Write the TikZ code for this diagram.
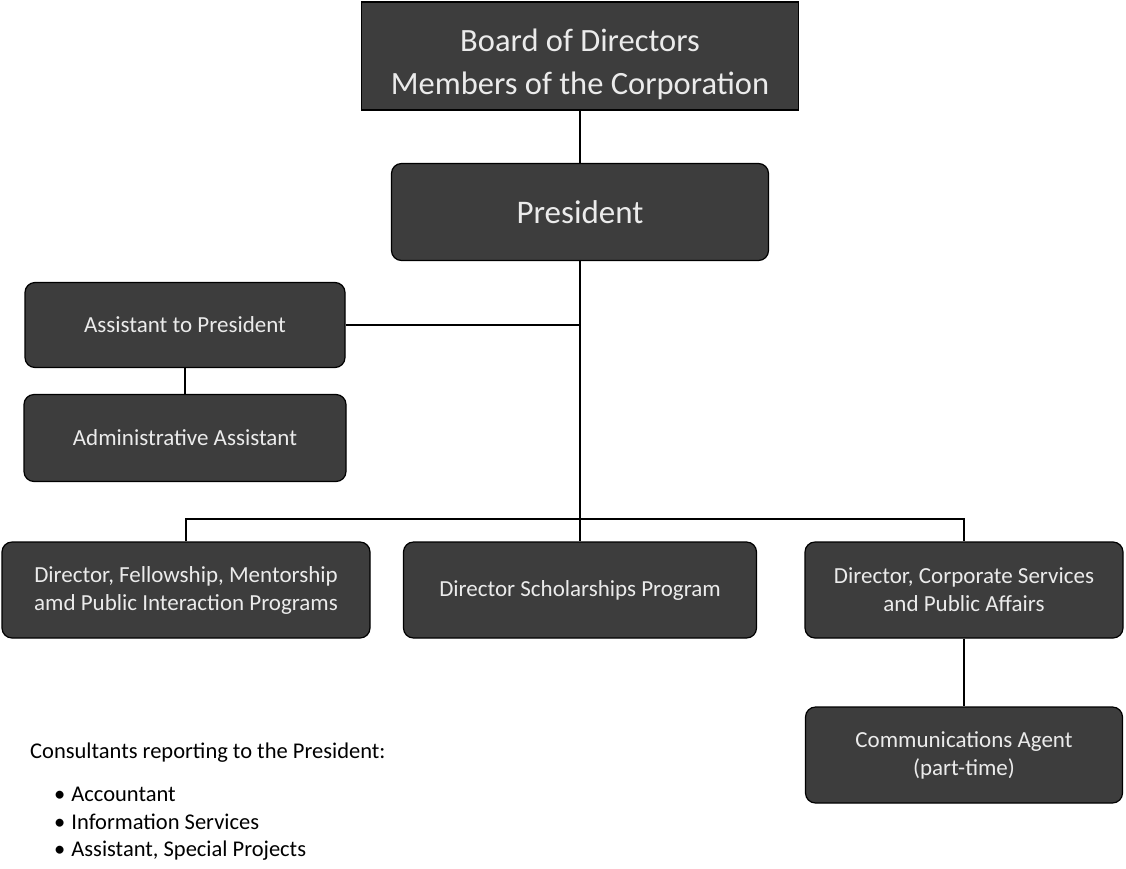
\documentclass[tikz,border=0pt]{standalone}
\usepackage{fontspec}
\setmainfont{Carlito}
\definecolor{boxgray}{HTML}{3D3D3D}
\definecolor{boxtext}{HTML}{EBEBEB}
\begin{document}
\begin{tikzpicture}[x=1pt,y=-1pt,
  box/.style={draw=black,line width=1.2pt,fill=boxgray,rounded corners=10pt,text=boxtext,
    align=center,inner sep=0pt,font=\fontsize{23}{28}\selectfont},
  link/.style={draw=black,line width=1.1pt},
  note/.style={anchor=west,inner sep=0pt,font=\fontsize{22.5}{27.5}\selectfont}]
\useasboundingbox (0,0) rectangle (1126,868);
\node[box,sharp corners,minimum width=437,minimum height=108,font=\fontsize{32.5}{43}\selectfont] (board) at (580,56) {\rule{0pt}{40pt}Board of Directors\\Members of the Corporation};
\node[box,minimum width=377,minimum height=97,font=\fontsize{33}{38}\selectfont] (pres) at (580,212) {President};
\node[box,minimum width=320,minimum height=85] (asst) at (185,325) {Assistant to President};
\node[box,minimum width=322,minimum height=87] (admin) at (185,438) {Administrative Assistant};
\node[box,minimum width=368,minimum height=96] (dir1) at (186,590) {Director, Fellowship, Mentorship\\amd Public Interaction Programs};
\node[box,minimum width=353,minimum height=96] (dir2) at (580,590) {Director Scholarships Program};
\node[box,minimum width=318,minimum height=96] (dir3) at (964,590) {Director, Corporate Services\\and Public Affairs};
\node[box,minimum width=317,minimum height=96] (comm) at (964,755) {Communications Agent\\(part-time)};
\coordinate (bus) at (580,519);
\draw[link] (board.south) -- (pres.north);
\draw[link] (pres.south) -- (dir2.north);
\draw[link] (asst.east) -- (asst.east -| pres.south);
\draw[link] (asst.south) -- (admin.north);
\draw[link] (dir1.north) |- (bus) -| (dir3.north);
\draw[link] (dir3.south) -- (comm.north);
\node[note] (consult) at (30,753) {Consultants reporting to the President:};
\node[note,anchor=north west,align=left] (items) at (54,787) {\textbullet\hspace{6pt}Accountant\\\textbullet\hspace{6pt}Information Services\\\textbullet\hspace{6pt}Assistant, Special Projects};
\end{tikzpicture}
\end{document}
